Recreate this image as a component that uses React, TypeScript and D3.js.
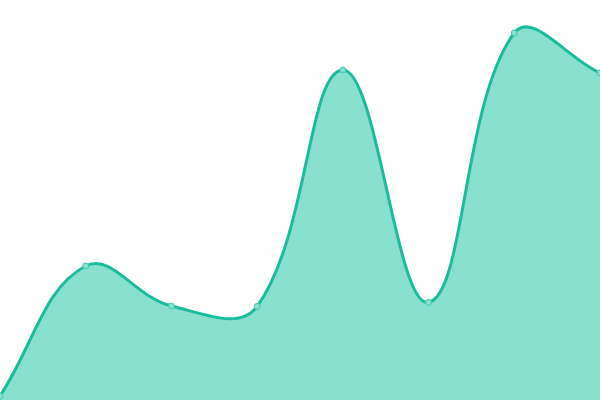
import * as d3 from "d3";
import React, { useEffect, useRef } from "react";

// Values (y domain 0..100)
const labels = ["A", "B", "C", "D", "E", "F", "G", "H"];
const values = [1, 33.5, 23.5, 23.4, 82.5, 24.4, 91.75, 81.75];

const LINE = "#1abc9c";
const FILL = "#8ae0cf";

type Pt = { x: number; y: number };

// Spline with tension 0.4, distance weighted control points (like Chart.js)
function splinePath(pts: Pt[], w: number, h: number, tension = 0.4) {
  const clampX = (v: number) => Math.max(0, Math.min(w, v));
  const clampY = (v: number) => Math.max(0, Math.min(h, v));
  const cps = pts.map((cur, i) => {
    const prev = pts[i - 1] || cur;
    const next = pts[i + 1] || cur;
    const d01 = Math.hypot(cur.x - prev.x, cur.y - prev.y);
    const d12 = Math.hypot(next.x - cur.x, next.y - cur.y);
    let s01 = d01 / (d01 + d12);
    let s12 = d12 / (d01 + d12);
    s01 = isNaN(s01) ? 0 : s01;
    s12 = isNaN(s12) ? 0 : s12;
    const fa = tension * s01;
    const fb = tension * s12;
    return {
      inX: clampX(cur.x - fa * (next.x - prev.x)),
      inY: clampY(cur.y - fa * (next.y - prev.y)),
      outX: clampX(cur.x + fb * (next.x - prev.x)),
      outY: clampY(cur.y + fb * (next.y - prev.y)),
    };
  });
  const p = d3.path();
  p.moveTo(pts[0].x, pts[0].y);
  for (let i = 1; i < pts.length; i++) {
    p.bezierCurveTo(cps[i - 1].outX, cps[i - 1].outY, cps[i].inX, cps[i].inY, pts[i].x, pts[i].y);
  }
  return p.toString();
}

const Chart: React.FC = () => {
  const ref = useRef<SVGSVGElement | null>(null);

  useEffect(() => {
    if (!ref.current) return;
    d3.select(ref.current).selectAll("*").remove();

    const width = 600;
    const height = 400;

    const svg = d3.select(ref.current).attr("width", width).attr("height", height);

    const x = d3.scalePoint<string>().domain(labels).range([0, width]);
    const y = d3.scaleLinear().domain([0, 100]).range([height, 0]);

    const pts: Pt[] = values.map((v, i) => ({ x: x(labels[i]) as number, y: y(v) }));
    const linePath = splinePath(pts, width, height);

    // Area down to zero
    svg
      .append("path")
      .attr("d", `${linePath}L${pts[pts.length - 1].x},${y(0)}L${pts[0].x},${y(0)}Z`)
      .attr("fill", FILL);

    svg
      .append("path")
      .attr("d", linePath)
      .attr("fill", "none")
      .attr("stroke", LINE)
      .attr("stroke-width", 3);

    svg
      .selectAll("circle")
      .data(pts)
      .enter()
      .append("circle")
      .attr("cx", (d) => d.x)
      .attr("cy", (d) => d.y)
      .attr("r", 3)
      .attr("fill", FILL)
      .attr("stroke", "#3cc8ab")
      .attr("stroke-width", 1);
  }, []);

  return <svg ref={ref} style={{ position: "fixed", left: 0, top: 0, display: "block" }}></svg>;
};

export default function App() {
  return <Chart />;
}
